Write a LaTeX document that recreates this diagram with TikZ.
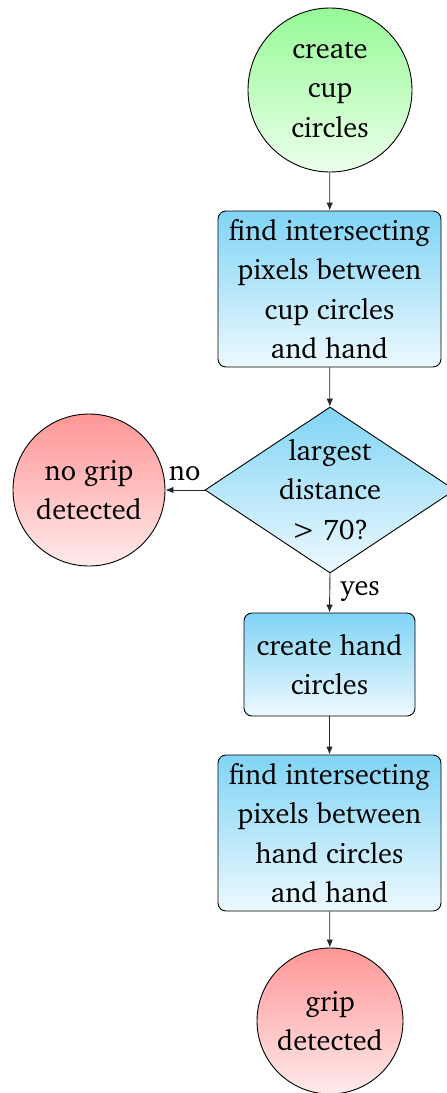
\documentclass[tikz,border=0pt]{standalone}
\usepackage[T1]{fontenc}
\usepackage{charter}
\usetikzlibrary{shapes.geometric,arrows.meta}

\definecolor{greentop}{RGB}{150,250,150}
\definecolor{greenbot}{RGB}{236,255,236}
\definecolor{bluetop}{RGB}{128,212,245}
\definecolor{bluebot}{RGB}{238,249,255}
\definecolor{redtop}{RGB}{255,150,150}
\definecolor{redbot}{RGB}{255,234,234}

\begin{document}
\begin{tikzpicture}[x=1pt,y=-1pt,
  txt/.style={font=\fontsize{28.4}{39.5}\selectfont, align=center},
  base/.style={txt, draw=black, line width=0.9pt, inner sep=0pt},
  startc/.style={base, circle, top color=greentop, bottom color=greenbot},
  stopc/.style={base, circle, top color=redtop, bottom color=redbot},
  procbox/.style={base, rectangle, rounded corners=8pt, top color=bluetop, bottom color=bluebot},
  decide/.style={base, diamond, top color=bluetop, bottom color=bluebot},
  arr/.style={-{Latex[length=8pt,width=6.5pt]}, line width=0.9pt, draw=black!85},
  lbl/.style={font=\fontsize{28.4}{32}\selectfont, inner sep=0pt}
]
\useasboundingbox (0,0) rectangle (447,1093);
\clip (0,0) rectangle (447,1093);

% flow nodes
\node[startc, minimum size=164pt] (cup) at (330,90) {create\\cup\\circles};
\node[procbox, minimum width=223pt, minimum height=156pt] (find1) at (329.5,289)
  {find intersecting\\pixels between\\cup circles\\and hand};
\node[decide, minimum width=250pt, minimum height=166pt] (dec) at (330,490) {};
\node[txt] (dectxt) at (dec.center) {largest\\distance\\\textgreater{} 70?};
\node[stopc, minimum size=152pt] (nogrip) at (89,490) {no grip\\detected};
\node[procbox, minimum width=171pt, minimum height=103pt] (hand) at (329.5,664.5)
  {create hand\\circles};
\node[procbox, minimum width=223pt, minimum height=156pt] (find2) at (329.5,833)
  {find intersecting\\pixels between\\hand circles\\and hand};
\node[stopc, minimum size=146pt] (grip) at (330,1021) {grip\\detected};

% connectors
\draw[arr] (cup) -- (find1);
\draw[arr] (find1) -- (dec);
\draw[arr] (dec.west) -- (nogrip.east)
  node[lbl, at end, anchor=base west, xshift=3pt, yshift=10pt] {no};
\draw[arr] (dec.south) -- (hand.north)
  node[lbl, at start, anchor=base west, xshift=10pt, yshift=-22pt] {yes};
\draw[arr] (hand) -- (find2);
\draw[arr] (find2) -- (grip);
\end{tikzpicture}
\end{document}
